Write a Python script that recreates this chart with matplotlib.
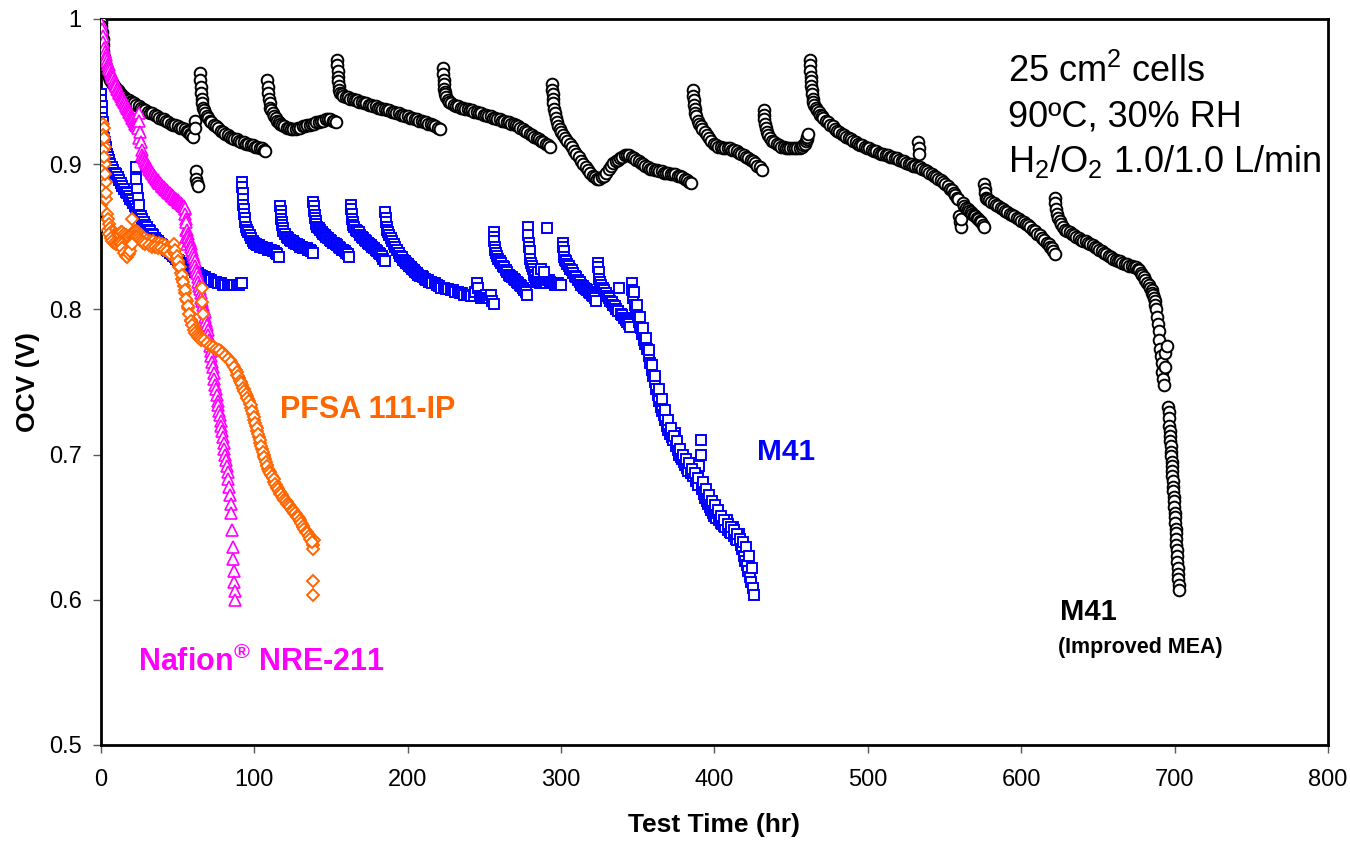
import matplotlib
matplotlib.use('Agg')
from matplotlib import pyplot as plt

plt.rcParams['font.family'] = ['Liberation Sans', 'DejaVu Sans']
plt.rcParams['mathtext.fontset'] = 'custom'
plt.rcParams['mathtext.rm'] = 'Liberation Sans'
plt.rcParams['mathtext.bf'] = 'Liberation Sans:bold'

# M41 (Improved MEA) - black circles, (time hr, OCV V)
m41i_pts = [
    (0, 0.998), (0.3, 0.995), (0.6, 0.991), (1, 0.986), (1.3, 0.982), (1.6, 0.978), (2, 0.974), (2.5, 0.970),
    (3, 0.967), (3.5, 0.965), (4, 0.963), (5, 0.960), (6, 0.958), (7, 0.956), (8, 0.955), (9, 0.953), (10, 0.952),
    (11, 0.951), (12, 0.950), (13, 0.948), (14, 0.947), (15, 0.946), (16, 0.945), (17, 0.944), (18, 0.944),
    (19, 0.943), (20, 0.943), (21.5, 0.942), (23, 0.941), (24.5, 0.940), (26, 0.939), (27.5, 0.938), (29, 0.937),
    (30.5, 0.936), (32, 0.935), (33.5, 0.935), (35, 0.934), (36.5, 0.933), (38, 0.932), (39.5, 0.931), (41, 0.931),
    (42.5, 0.930), (44, 0.929), (45.5, 0.928), (47, 0.927), (48.5, 0.927), (50, 0.926), (51.5, 0.925), (53, 0.925),
    (54.5, 0.924), (56, 0.923), (57, 0.922), (58, 0.921), (59, 0.920), (60, 0.919),
    (61, 0.930), (61, 0.925), (62, 0.895), (62, 0.890), (62.5, 0.887), (63, 0.885),
    (64.5, 0.963), (64.8, 0.958), (65, 0.953), (65.3, 0.949), (65.6, 0.945), (66, 0.942), (66.5, 0.939), (67, 0.937),
    (68, 0.935), (69, 0.933), (70, 0.932), (71, 0.930), (72, 0.929), (73.5, 0.927), (75, 0.926), (76.5, 0.925),
    (78, 0.923), (79.5, 0.922), (81, 0.921), (82.5, 0.920), (84, 0.919), (85.5, 0.918), (87, 0.917), (88.5, 0.917),
    (90, 0.916), (91.5, 0.915), (93, 0.915), (94.5, 0.914), (96, 0.914), (97.5, 0.913), (99, 0.913), (100.5, 0.912),
    (102, 0.912), (103.5, 0.911), (105, 0.911), (106, 0.910), (107, 0.909),
    (108.5, 0.958), (108.8, 0.953), (109, 0.949), (109.5, 0.945), (110, 0.942), (110.5, 0.939), (111, 0.937),
    (112, 0.935), (113, 0.933), (114, 0.932), (115, 0.930), (116, 0.929), (117, 0.928), (118, 0.927), (119.5, 0.926),
    (121, 0.925), (122.5, 0.925), (124, 0.924), (125.5, 0.924), (127, 0.924), (128.5, 0.925), (130, 0.925),
    (131.5, 0.926), (133, 0.926), (134.5, 0.927), (136, 0.927), (137.5, 0.928), (139, 0.928), (140.5, 0.929),
    (142, 0.929), (143.5, 0.930), (145, 0.930), (146.5, 0.931), (148, 0.931), (149.5, 0.931), (151, 0.930),
    (152, 0.930), (153, 0.929),
    (154, 0.972), (154.2, 0.968), (154.4, 0.964), (154.6, 0.960), (154.8, 0.957), (155, 0.954), (155.5, 0.951),
    (156, 0.949), (157, 0.948), (158, 0.947), (159.5, 0.946), (161, 0.946), (162.5, 0.945), (164, 0.945),
    (165.5, 0.944), (167, 0.944), (168.5, 0.943), (170, 0.943), (171.5, 0.942), (173, 0.942), (174.5, 0.941),
    (176, 0.941), (177.5, 0.940), (179, 0.940), (180.5, 0.939), (182, 0.939), (183.5, 0.938), (185, 0.938),
    (186.5, 0.937), (188, 0.937), (189.5, 0.936), (191, 0.936), (192.5, 0.935), (194, 0.935), (195.5, 0.934),
    (197, 0.934), (198.5, 0.933), (200, 0.933), (201.5, 0.932), (203, 0.932), (204.5, 0.931), (206, 0.931),
    (207.5, 0.930), (209, 0.930), (210.5, 0.929), (212, 0.929), (213.5, 0.928), (215, 0.928), (216.5, 0.927),
    (218, 0.926), (219.5, 0.925), (221, 0.924),
    (223, 0.966), (223.2, 0.962), (223.4, 0.958), (223.6, 0.955), (223.8, 0.952), (224, 0.950), (224.5, 0.948),
    (225, 0.946), (226, 0.944), (227, 0.943), (228.5, 0.942), (230, 0.941), (231.5, 0.940), (233, 0.940),
    (234.5, 0.939), (236, 0.939), (237.5, 0.938), (239, 0.938), (240.5, 0.937), (242, 0.937), (243.5, 0.936),
    (245, 0.936), (246.5, 0.935), (248, 0.935), (249.5, 0.934), (251, 0.934), (252.5, 0.933), (254, 0.933),
    (255.5, 0.932), (257, 0.932), (258.5, 0.931), (260, 0.931), (261.5, 0.930), (263, 0.930), (264.5, 0.929),
    (266, 0.929), (267.5, 0.928), (269, 0.928), (270.5, 0.927), (272, 0.926), (273.5, 0.925), (275, 0.924),
    (276.5, 0.923), (278, 0.922), (279.5, 0.921), (281, 0.920), (282.5, 0.919), (284, 0.918), (285.5, 0.917),
    (287, 0.916), (288.5, 0.915), (290, 0.914), (291.5, 0.913), (293, 0.912),
    (294, 0.955), (294.2, 0.951), (294.5, 0.948), (294.8, 0.945), (295, 0.942), (295.5, 0.938), (296, 0.935),
    (296.5, 0.932), (297, 0.929), (298, 0.926), (299, 0.924), (300, 0.922), (301, 0.920), (302.5, 0.918),
    (304, 0.916), (305.5, 0.914), (307, 0.912), (308.5, 0.909), (310, 0.907), (311.5, 0.905), (313, 0.902),
    (314.5, 0.900), (316, 0.898), (317.5, 0.896), (319, 0.894), (320.5, 0.892), (322, 0.891), (323.5, 0.890),
    (325, 0.890), (326.5, 0.891), (328, 0.892), (329.5, 0.894), (331, 0.897), (332.5, 0.899), (334, 0.901),
    (335.5, 0.902), (337, 0.903), (338.5, 0.904), (340, 0.905), (341.5, 0.906), (343, 0.906), (344.5, 0.906),
    (346, 0.905), (347.5, 0.904), (349, 0.903), (350.5, 0.902), (352, 0.901), (353.5, 0.900), (355, 0.899),
    (356.5, 0.898), (358, 0.897), (359.5, 0.897), (361, 0.896), (362.5, 0.896), (364, 0.895), (365.5, 0.895),
    (367, 0.894), (368.5, 0.894), (370, 0.894), (371.5, 0.893), (373, 0.893), (374.5, 0.893), (376, 0.892),
    (377.5, 0.892), (379, 0.891), (380.5, 0.890), (382, 0.889), (383.5, 0.888), (385, 0.887),
    (386, 0.951), (386.2, 0.947), (386.5, 0.944), (386.8, 0.941), (387, 0.938), (387.5, 0.935), (388, 0.933),
    (389, 0.930), (390, 0.928), (391, 0.926), (392, 0.924), (393.5, 0.922), (395, 0.920), (396.5, 0.918),
    (398, 0.916), (399.5, 0.914), (401, 0.913), (402.5, 0.912), (404, 0.912), (405.5, 0.911), (407, 0.911),
    (408.5, 0.911), (410, 0.911), (411.5, 0.910), (413, 0.910), (414.5, 0.909), (416, 0.908), (417.5, 0.907),
    (419, 0.906), (420.5, 0.905), (422, 0.904), (423.5, 0.903), (425, 0.902), (426.5, 0.901), (428, 0.899),
    (429.5, 0.898), (431, 0.896),
    (432, 0.937), (432.3, 0.934), (432.6, 0.931), (433, 0.928), (433.5, 0.925), (434, 0.922), (435, 0.920),
    (436, 0.918), (437.5, 0.916), (439, 0.915), (440.5, 0.914), (442, 0.913), (443.5, 0.912), (445, 0.912),
    (446.5, 0.911), (448, 0.911), (449.5, 0.911), (451, 0.911), (452.5, 0.911), (454, 0.911), (455.5, 0.911),
    (457, 0.912), (458, 0.913), (459, 0.914), (459.5, 0.916), (460, 0.917), (460.5, 0.919), (461, 0.921),
    (462, 0.972), (462.2, 0.968), (462.4, 0.964), (462.6, 0.960), (462.8, 0.957), (463, 0.954), (463.3, 0.951),
    (463.6, 0.948), (464, 0.945), (464.5, 0.943), (465, 0.941), (466, 0.939), (467, 0.937), (468, 0.936),
    (469, 0.934), (470, 0.933), (471, 0.932), (472.5, 0.930), (474, 0.929), (475.5, 0.927), (477, 0.926),
    (478.5, 0.924), (480, 0.923), (481.5, 0.922), (483, 0.921), (484.5, 0.920), (486, 0.919), (487.5, 0.918),
    (489, 0.917), (490.5, 0.916), (492, 0.915), (493.5, 0.914), (495, 0.913), (496.5, 0.913), (498, 0.912),
    (499.5, 0.911), (501, 0.911), (502.5, 0.910), (504, 0.909), (505.5, 0.909), (507, 0.908), (508.5, 0.907),
    (510, 0.907), (511.5, 0.906), (513, 0.906), (514.5, 0.905), (516, 0.905), (517.5, 0.904), (519, 0.904),
    (520.5, 0.903), (522, 0.902), (523.5, 0.902), (525, 0.901), (526.5, 0.900), (528, 0.900), (529.5, 0.899),
    (531, 0.899), (532.5, 0.898), (533, 0.915), (533.3, 0.911), (533.6, 0.907), (534, 0.898), (535.5, 0.897),
    (537, 0.896), (538.5, 0.895), (540, 0.894), (541.5, 0.893), (543, 0.892), (544.5, 0.891), (546, 0.890),
    (547.5, 0.889), (549, 0.888), (550.5, 0.886), (552, 0.885), (553.5, 0.883), (555, 0.882), (556, 0.880),
    (557, 0.879), (558, 0.877), (559, 0.876), (559.5, 0.864), (560, 0.860), (560.5, 0.857), (561, 0.862),
    (562, 0.873), (563, 0.871), (564, 0.870), (565, 0.869), (566, 0.868), (567, 0.867), (568, 0.866),
    (569, 0.865), (570, 0.864), (571, 0.863), (572, 0.862), (573, 0.861), (574, 0.860), (575, 0.858), (576, 0.857),
    (576, 0.886), (576.3, 0.883), (576.6, 0.880), (577, 0.877), (578, 0.876), (579, 0.875), (580.5, 0.874),
    (582, 0.873), (583.5, 0.872), (585, 0.871), (586.5, 0.870), (588, 0.869), (589.5, 0.868), (591, 0.867),
    (592.5, 0.866), (594, 0.865), (595.5, 0.864), (597, 0.863), (598.5, 0.862), (600, 0.861), (601.5, 0.860),
    (603, 0.859), (604.5, 0.858), (606, 0.857), (607.5, 0.855), (609, 0.854), (610.5, 0.852), (612, 0.851),
    (613.5, 0.849), (615, 0.848), (616.5, 0.846), (618, 0.845), (619, 0.843), (620, 0.842), (621, 0.840),
    (622, 0.838),
    (622, 0.877), (622.3, 0.873), (622.6, 0.869), (623, 0.866), (624, 0.863), (625, 0.861), (626, 0.859),
    (627, 0.857), (628.5, 0.855), (630, 0.854), (631.5, 0.853), (633, 0.852), (634.5, 0.851), (636, 0.850),
    (637.5, 0.849), (639, 0.848), (640.5, 0.847), (642, 0.847), (643.5, 0.846), (645, 0.845), (646.5, 0.844),
    (648, 0.843), (649.5, 0.842), (651, 0.841), (652.5, 0.840), (654, 0.839), (655.5, 0.838), (657, 0.837),
    (658.5, 0.836), (660, 0.835), (661.5, 0.834), (663, 0.833), (664.5, 0.833), (666, 0.832), (667.5, 0.831),
    (669, 0.831), (670.5, 0.830), (672, 0.830), (673.5, 0.829), (675, 0.829), (676, 0.828), (677, 0.827),
    (678, 0.825), (679, 0.824), (680, 0.822), (681, 0.820), (682, 0.818), (683, 0.817), (684, 0.815),
    (685, 0.813), (685.5, 0.811), (686, 0.810), (686.5, 0.808), (687, 0.806), (687.5, 0.803), (688, 0.800),
    (688.5, 0.795), (689, 0.790), (689.5, 0.785), (690, 0.779), (690.5, 0.773), (691, 0.768), (691.5, 0.763),
    (692, 0.757), (692.5, 0.752), (693, 0.748), (693.5, 0.760), (694, 0.770), (695, 0.775),
    (696, 0.733), (696.2, 0.729), (696.4, 0.725), (696.6, 0.720), (696.8, 0.716), (697, 0.713), (697.2, 0.709),
    (697.4, 0.706), (697.6, 0.702), (697.8, 0.699), (698, 0.695), (698.2, 0.692), (698.4, 0.689), (698.6, 0.685),
    (698.8, 0.682), (699, 0.678), (699.2, 0.675), (699.4, 0.671), (699.6, 0.668), (699.8, 0.664), (700, 0.660),
    (700.2, 0.657), (700.4, 0.653), (700.6, 0.649), (700.8, 0.646), (701, 0.642), (701.2, 0.638), (701.4, 0.634),
    (701.6, 0.630), (701.8, 0.626), (702, 0.622), (702.2, 0.618), (702.4, 0.614), (702.6, 0.610), (702.8, 0.607),
]

# M41 - blue squares
m41_pts = [
    (0, 0.948), (0.2, 0.944), (0.4, 0.940), (0.6, 0.936), (0.8, 0.932), (1, 0.929), (1.3, 0.925), (1.6, 0.921),
    (2, 0.918), (2.5, 0.915), (3, 0.912), (3.5, 0.909), (4, 0.907), (4.5, 0.905), (5, 0.903), (5.5, 0.901),
    (6, 0.900), (7, 0.898), (8, 0.896), (9, 0.894), (10, 0.893), (11, 0.891), (12, 0.889), (13, 0.887),
    (14, 0.885), (15, 0.883), (16, 0.881), (17, 0.880), (18, 0.878), (19, 0.876), (20, 0.875), (21, 0.873),
    (22, 0.871), (23, 0.869), (24, 0.867), (25, 0.865), (26, 0.864), (27, 0.862), (28, 0.860), (29, 0.858),
    (30, 0.857), (31, 0.855), (32, 0.854), (33, 0.852), (34, 0.851), (35, 0.849), (36, 0.848), (37, 0.847),
    (38, 0.846), (39, 0.845), (40, 0.844), (41, 0.843), (42, 0.842), (43, 0.841), (44, 0.840), (45, 0.839),
    (46, 0.838), (47, 0.837), (48, 0.836), (49, 0.835), (50, 0.834), (51, 0.833), (52, 0.832), (53, 0.831),
    (54, 0.831), (55, 0.830), (56, 0.830), (57, 0.829), (58, 0.829), (59, 0.828), (60, 0.827), (61.5, 0.826),
    (63, 0.825), (64.5, 0.824), (66, 0.823), (67.5, 0.822), (69, 0.821), (70.5, 0.821), (72, 0.820),
    (73.5, 0.819), (75, 0.819), (76.5, 0.818), (78, 0.818), (79.5, 0.817), (81, 0.817), (82.5, 0.817),
    (84, 0.817), (85.5, 0.817), (87, 0.817), (88.5, 0.817), (90, 0.817), (91, 0.818), (92, 0.818),
    (23, 0.898), (23, 0.890), (23.5, 0.883), (24, 0.877), (24.5, 0.872),
    (92, 0.888), (92.2, 0.884), (92.4, 0.880), (92.6, 0.876), (92.8, 0.872), (93, 0.869), (93.3, 0.866),
    (93.6, 0.863), (94, 0.860), (94.5, 0.857), (95, 0.855), (96, 0.853), (97, 0.851), (98, 0.849), (99, 0.847),
    (100, 0.846), (101, 0.845), (102, 0.844), (103, 0.844), (104, 0.843), (105, 0.843), (106, 0.842),
    (107, 0.842), (108, 0.842), (109, 0.841), (110, 0.841), (111, 0.841), (112, 0.840), (113, 0.840),
    (114, 0.839), (115, 0.838), (116, 0.836),
    (117, 0.871), (117.2, 0.868), (117.4, 0.865), (117.6, 0.862), (117.8, 0.860), (118, 0.858), (118.5, 0.856),
    (119, 0.854), (120, 0.852), (121, 0.850), (122, 0.849), (123, 0.848), (124, 0.847), (125, 0.847),
    (126, 0.846), (127, 0.845), (128, 0.845), (129, 0.844), (130, 0.843), (131, 0.843), (132, 0.842),
    (133, 0.842), (134, 0.842), (135, 0.841), (136, 0.841), (137, 0.840), (138, 0.839),
    (138.5, 0.874), (138.7, 0.871), (139, 0.868), (139.3, 0.865), (139.6, 0.863), (140, 0.861), (140.5, 0.859),
    (141, 0.857), (142, 0.856), (143, 0.855), (144, 0.853), (145, 0.852), (146, 0.851), (147, 0.850),
    (148, 0.849), (149, 0.848), (150, 0.847), (151, 0.846), (152, 0.846), (153, 0.845), (154, 0.844),
    (155, 0.843), (156, 0.842), (157, 0.841), (158, 0.841), (159, 0.840), (160, 0.839), (161, 0.838),
    (162, 0.836),
    (163, 0.872), (163.2, 0.869), (163.4, 0.866), (163.7, 0.862), (164, 0.860), (164.5, 0.858), (165, 0.857),
    (166, 0.855), (167, 0.854), (168, 0.853), (169, 0.851), (170, 0.850), (171, 0.849), (172, 0.848),
    (173, 0.847), (174, 0.846), (175, 0.845), (176, 0.844), (177, 0.843), (178, 0.842), (179, 0.841),
    (180, 0.840), (181, 0.839), (182, 0.838), (183, 0.837), (184, 0.835), (185, 0.833),
    (185.5, 0.867), (185.7, 0.863), (186, 0.860), (186.3, 0.857), (186.6, 0.855), (187, 0.853), (188, 0.851),
    (189, 0.849), (190, 0.847), (191, 0.845), (192, 0.843), (193, 0.841), (194, 0.839), (195, 0.837),
    (196, 0.836), (197, 0.834), (198, 0.833), (199, 0.832), (200, 0.831), (201, 0.830), (202, 0.829),
    (203, 0.828), (204, 0.827), (205, 0.826), (206, 0.825), (207, 0.824), (208, 0.823), (209, 0.823),
    (210, 0.822), (211, 0.821), (212, 0.820), (213, 0.820), (214, 0.819), (215, 0.819), (216, 0.818),
    (217.5, 0.818), (219, 0.817), (220.5, 0.816), (222, 0.815), (223.5, 0.815), (225, 0.814), (226.5, 0.814),
    (228, 0.813), (229.5, 0.813), (231, 0.812), (232.5, 0.812), (234, 0.811), (235.5, 0.811), (237, 0.810),
    (238.5, 0.810), (240, 0.810), (241.5, 0.809), (243, 0.809), (244, 0.812), (245, 0.818), (246, 0.815),
    (247, 0.809), (248, 0.808), (249, 0.808), (250, 0.809), (251, 0.810), (252, 0.808), (253, 0.808),
    (254, 0.810), (255, 0.806), (256, 0.804),
    (256, 0.853), (256.2, 0.850), (256.4, 0.847), (256.7, 0.843), (257, 0.841), (257.5, 0.839), (258, 0.837),
    (259, 0.835), (260, 0.833), (261, 0.832), (262, 0.830), (263, 0.829), (264, 0.827), (265, 0.826),
    (266, 0.824), (267, 0.823), (268, 0.822), (269, 0.821), (270, 0.820), (271, 0.819), (272, 0.818),
    (273, 0.817), (274, 0.816), (275, 0.815), (276, 0.813), (277, 0.812), (278, 0.810),
    (278.5, 0.857), (278.7, 0.851), (279, 0.846), (279.3, 0.843), (279.6, 0.840), (280, 0.835), (280.5, 0.832),
    (281, 0.830), (281.5, 0.828), (282, 0.826), (282.5, 0.824), (283, 0.822), (283.5, 0.820), (284, 0.819),
    (285, 0.819), (286, 0.818), (287, 0.819), (288, 0.820), (289, 0.819), (290, 0.818), (291, 0.856),
    (291.5, 0.820), (292, 0.820), (293, 0.819), (294, 0.818), (295, 0.818), (296, 0.817), (297, 0.818),
    (298, 0.818), (299, 0.817), (300, 0.817), (285, 0.826), (287, 0.828), (289, 0.826),
    (301, 0.846), (301.3, 0.843), (301.6, 0.840), (302, 0.836), (302.5, 0.834), (303, 0.833), (304, 0.831),
    (305, 0.830), (306, 0.828), (307, 0.827), (308, 0.825), (309, 0.823), (310, 0.822), (311, 0.820),
    (312, 0.819), (313, 0.817), (314, 0.816), (315, 0.815), (316, 0.814), (317, 0.813), (318, 0.812),
    (319, 0.811), (320, 0.810), (321, 0.809), (322, 0.808), (323, 0.806),
    (324, 0.832), (324.3, 0.829), (324.6, 0.826), (325, 0.821), (325.5, 0.819), (326, 0.817), (327, 0.815),
    (328, 0.813), (329, 0.811), (330, 0.809), (331, 0.808), (332, 0.806), (333, 0.805), (334, 0.803),
    (335, 0.802), (336, 0.800), (337, 0.799), (338, 0.815), (339, 0.797), (340, 0.796), (341, 0.794),
    (342, 0.793), (343, 0.791), (344, 0.790), (345, 0.788),
    (346, 0.818), (346.5, 0.813), (347, 0.808), (348, 0.803), (349, 0.799), (350, 0.795), (351, 0.791),
    (352, 0.787), (353, 0.783), (354, 0.779), (355, 0.776), (356, 0.773), (357, 0.768), (358, 0.763),
    (359, 0.758), (360, 0.754), (361, 0.750), (362, 0.745), (363, 0.741), (364, 0.737), (365, 0.733),
    (366, 0.730), (367, 0.727), (368, 0.724), (369, 0.720), (370, 0.717), (371, 0.714), (372, 0.712),
    (373, 0.710), (374, 0.715), (375, 0.706), (376, 0.703), (377, 0.700), (378, 0.698), (379, 0.697),
    (380, 0.695), (381, 0.693), (382, 0.691), (383, 0.689), (384, 0.694), (385, 0.687), (386, 0.685),
    (387, 0.688), (388, 0.682), (389, 0.679), (390, 0.692), (391, 0.710), (391.5, 0.700), (392, 0.676),
    (393, 0.673), (394, 0.670), (395, 0.668), (396, 0.666), (397, 0.664), (398, 0.662), (399, 0.660),
    (400, 0.658), (401, 0.656), (402, 0.660), (403, 0.655), (404, 0.653), (405, 0.652), (406, 0.651),
    (407, 0.650), (408, 0.655), (409, 0.648), (410, 0.647), (411, 0.646), (412, 0.650), (413, 0.644),
    (414, 0.642), (415, 0.641), (416, 0.645), (417, 0.638), (418, 0.635), (419, 0.630), (420, 0.627),
    (421, 0.624), (422, 0.620), (423, 0.616), (424, 0.612), (425, 0.608), (425.5, 0.603),
    (347.5, 0.812), (349.5, 0.803), (351.5, 0.795), (353.5, 0.787), (355.5, 0.780), (357.5, 0.772),
    (359.5, 0.762), (361.5, 0.754), (363.5, 0.745), (365.5, 0.738), (367.5, 0.731), (369.5, 0.724),
    (371.5, 0.718), (373.5, 0.713), (375.5, 0.709), (377.5, 0.704), (379.5, 0.700), (381.5, 0.697),
    (383.5, 0.694), (385.5, 0.690), (387.5, 0.687), (389.5, 0.684), (392.5, 0.681), (394.5, 0.676),
    (396.5, 0.672), (398.5, 0.668), (400.5, 0.665), (402.5, 0.662), (404.5, 0.658), (406.5, 0.655),
    (408.5, 0.652), (410.5, 0.650), (412.5, 0.648), (414.5, 0.645), (416.5, 0.642), (418.5, 0.640),
    (420.5, 0.636), (422.5, 0.630), (424.5, 0.622),
]

# Nafion NRE-211 - magenta triangles
nre_pts = [
    (0, 0.997), (0.5, 0.993), (1, 0.988), (1.5, 0.984), (2, 0.980), (2.5, 0.977), (3, 0.975), (3.5, 0.973),
    (4, 0.971), (4.5, 0.969), (5, 0.968), (5.5, 0.966), (6, 0.965), (6.5, 0.963), (7, 0.962), (7.5, 0.960),
    (8, 0.959), (8.5, 0.957), (9, 0.956), (9.5, 0.955), (10, 0.954), (10.5, 0.952), (11, 0.951), (11.5, 0.950),
    (12, 0.949), (12.5, 0.948), (13, 0.947), (13.5, 0.946), (14, 0.945), (14.5, 0.944), (15, 0.943),
    (15.5, 0.942), (16, 0.941), (16.5, 0.940), (17, 0.939), (17.5, 0.938), (18, 0.937), (18.5, 0.936),
    (19, 0.935), (19.5, 0.934), (20, 0.933), (20.5, 0.932), (21, 0.931), (21.5, 0.930), (22, 0.929),
    (22.5, 0.928), (23, 0.927), (23.5, 0.926), (24, 0.925), (24.5, 0.935), (25, 0.930), (25, 0.918),
    (25.5, 0.922), (26, 0.915), (26.5, 0.910), (27, 0.906), (27.5, 0.905), (28, 0.904), (28.5, 0.903),
    (29, 0.902), (29.5, 0.901), (30, 0.900), (30.5, 0.899), (31, 0.898), (31.5, 0.897), (32, 0.896),
    (32.5, 0.895), (33, 0.894), (33.5, 0.894), (34, 0.893), (34.5, 0.892), (35, 0.891), (35.5, 0.891),
    (36, 0.890), (36.5, 0.889), (37, 0.889), (37.5, 0.888), (38, 0.887), (38.5, 0.887), (39, 0.886),
    (39.5, 0.885), (40, 0.885), (40.5, 0.884), (41, 0.884), (41.5, 0.883), (42, 0.883), (42.5, 0.882),
    (43, 0.882), (43.5, 0.881), (44, 0.881), (44.5, 0.880), (45, 0.880), (45.5, 0.879), (46, 0.879),
    (46.5, 0.878), (47, 0.878), (47.5, 0.877), (48, 0.877), (48.5, 0.876), (49, 0.876), (49.5, 0.875),
    (50, 0.875), (50.5, 0.874), (51, 0.874), (51.5, 0.873), (52, 0.873), (52.5, 0.872), (53, 0.872),
    (53.5, 0.871), (54, 0.871), (54.5, 0.869), (55, 0.870), (55, 0.866), (55.2, 0.862), (55.4, 0.855),
    (55.5, 0.860), (55.6, 0.850), (55.8, 0.845), (56, 0.855), (56.5, 0.852), (57, 0.850), (57.5, 0.848),
    (58, 0.847), (58.5, 0.845), (59, 0.843), (59.5, 0.841), (60, 0.838), (60.5, 0.836), (61, 0.833),
    (61.5, 0.830), (62, 0.827), (62.5, 0.825), (63, 0.822), (63.5, 0.819), (64, 0.816), (64.5, 0.814),
    (65, 0.811), (65.5, 0.808), (66, 0.806), (66.5, 0.803), (67, 0.800), (67.5, 0.798), (68, 0.795),
    (68.5, 0.792), (69, 0.789), (69.5, 0.786), (70, 0.782), (70.5, 0.779), (71, 0.775), (71.5, 0.771),
    (72, 0.768), (72.5, 0.764), (73, 0.760), (73.5, 0.756), (74, 0.752), (74.5, 0.748), (75, 0.745),
    (75.5, 0.741), (76, 0.737), (76.5, 0.734), (77, 0.730), (77.5, 0.727), (78, 0.723), (78.5, 0.720),
    (79, 0.716), (79.5, 0.712), (80, 0.708), (80.5, 0.704), (81, 0.700), (81.5, 0.696), (82, 0.692),
    (82.5, 0.688), (83, 0.683), (83.5, 0.678), (84, 0.672), (84.5, 0.666), (85, 0.660), (85.5, 0.648),
    (86, 0.636), (86.3, 0.628), (86.6, 0.620), (87, 0.612), (87.3, 0.606), (87.6, 0.600),
]

# PFSA 111-IP - orange diamonds
pfsa_pts = [
    (0, 0.858), (0.3, 0.872), (0.6, 0.888), (1, 0.903), (1.3, 0.916), (1.6, 0.928), (2, 0.925), (2.3, 0.912),
    (2.6, 0.900), (3, 0.888), (3.5, 0.876), (4, 0.866), (0, 0.870), (0.5, 0.882), (0.8, 0.895), (1.2, 0.910),
    (1.5, 0.920), (1.8, 0.918), (2.2, 0.905), (2.8, 0.893), (3.2, 0.880), (4.5, 0.862),
    (5, 0.859), (6, 0.856), (7, 0.854), (8, 0.853), (9, 0.852), (10, 0.851), (11, 0.851), (12, 0.852),
    (13, 0.853), (14, 0.853), (15, 0.852), (16, 0.851), (17, 0.850), (18, 0.850), (19, 0.851), (20, 0.852),
    (21, 0.853), (22, 0.854), (23, 0.854), (24, 0.853), (25, 0.852), (26, 0.851), (27, 0.850), (28, 0.849),
    (30, 0.848), (32, 0.847), (34, 0.847), (36, 0.846), (38, 0.846), (40, 0.845), (42, 0.844), (44, 0.843),
    (46, 0.842),
    (5.5, 0.852), (6.5, 0.849), (7.5, 0.847), (8.5, 0.846), (9.5, 0.845), (10.5, 0.845), (11.5, 0.846),
    (12.5, 0.846), (13.5, 0.845), (14.5, 0.843), (15.5, 0.841), (16.5, 0.839), (17.5, 0.840), (18.5, 0.842),
    (19.5, 0.845), (21.5, 0.849), (22.5, 0.850), (23.5, 0.850), (24.5, 0.849), (25.5, 0.848), (26.5, 0.847),
    (27.5, 0.846), (29, 0.845), (31, 0.844), (33, 0.843), (35, 0.843), (37, 0.842), (39, 0.842), (41, 0.841),
    (43, 0.840), (45, 0.838),
    (14, 0.842), (15, 0.839), (16, 0.837), (17, 0.836), (18, 0.838), (19, 0.840), (20, 0.845), (20.5, 0.862),
    (47, 0.840), (48, 0.838), (49, 0.835), (50, 0.832), (51, 0.829), (52, 0.825), (53, 0.821), (54, 0.816),
    (55, 0.811), (56, 0.806), (57, 0.801), (58, 0.797), (59, 0.793), (60, 0.790), (61, 0.787), (62, 0.785),
    (63, 0.783), (64, 0.782), (65, 0.781), (66, 0.780), (68, 0.778), (70, 0.776), (72, 0.775), (74, 0.774),
    (76, 0.772), (78, 0.771), (80, 0.769), (82, 0.767), (84, 0.765), (86, 0.762), (88, 0.758), (89, 0.755),
    (90, 0.753), (91, 0.750), (92, 0.748), (93, 0.745), (94, 0.743), (95, 0.740), (96, 0.738), (97, 0.735),
    (98, 0.732), (99, 0.728), (100, 0.724), (101, 0.720), (102, 0.716), (103, 0.712), (104, 0.708),
    (105, 0.704), (106, 0.700), (107, 0.697), (108, 0.693), (109, 0.690), (110, 0.688), (111, 0.686),
    (112, 0.684), (113, 0.681), (114, 0.679), (115, 0.677), (116, 0.675), (117, 0.673), (118, 0.672),
    (119, 0.670), (120, 0.669), (121, 0.667), (122, 0.666), (123, 0.664), (124, 0.663), (125, 0.662),
    (126, 0.660), (127, 0.659), (128, 0.657), (129, 0.656), (130, 0.654), (131, 0.652), (132, 0.650),
    (133, 0.648), (134, 0.647), (135, 0.645), (136, 0.643), (137, 0.641), (138, 0.638), (138.5, 0.635),
    (139, 0.641),
    (47.5, 0.845), (48.5, 0.841), (49.5, 0.837), (50.5, 0.833), (51.5, 0.829), (52.5, 0.824), (53.5, 0.819),
    (54.5, 0.813), (55.5, 0.807), (56.5, 0.802), (57.5, 0.797), (58.5, 0.792), (59.5, 0.789), (60.5, 0.786),
    (61.5, 0.784), (62.5, 0.782), (63.5, 0.781), (64.5, 0.780), (65.5, 0.779), (67, 0.779), (69, 0.777),
    (71, 0.775), (73, 0.774), (75, 0.773), (77, 0.772), (79, 0.770), (81, 0.768), (83, 0.766), (85, 0.764),
    (87, 0.760), (88.5, 0.757), (89.5, 0.754), (90.5, 0.751), (91.5, 0.749), (92.5, 0.746), (93.5, 0.744),
    (94.5, 0.742), (95.5, 0.739), (96.5, 0.737), (97.5, 0.734), (98.5, 0.730), (99.5, 0.726), (100.5, 0.722),
    (101.5, 0.718), (102.5, 0.714), (103.5, 0.710), (104.5, 0.706), (105.5, 0.702), (106.5, 0.698),
    (107.5, 0.695), (108.5, 0.692), (109.5, 0.689), (110.5, 0.687), (111.5, 0.685), (112.5, 0.683),
    (113.5, 0.680), (114.5, 0.678), (115.5, 0.676), (116.5, 0.674), (117.5, 0.673), (118.5, 0.671),
    (119.5, 0.669), (120.5, 0.668), (121.5, 0.666), (122.5, 0.665), (123.5, 0.664), (124.5, 0.662),
    (125.5, 0.661), (126.5, 0.660), (127.5, 0.658), (128.5, 0.657), (129.5, 0.655), (130.5, 0.653),
    (131.5, 0.651), (132.5, 0.649), (133.5, 0.647), (134.5, 0.646), (135.5, 0.644), (136.5, 0.642),
    (137.5, 0.640),
    (66, 0.815), (66, 0.805), (66.5, 0.797), (138, 0.613), (138, 0.603),
]

labels = ['PFSA 111-IP', 'M41', r'Nafion$^{\mathbf{®}}$ NRE-211', 'M41', '(Improved MEA)']
conditions = [r'25 cm$^2$ cells', '90ºC, 30% RH', r'H$_2$/O$_2$ 1.0/1.0 L/min']

fig = plt.figure(figsize=(13.5, 8.43), dpi=100)
ax = fig.add_axes([0.0748, 0.1163, 0.9089, 0.8612])

t, v = zip(*m41i_pts)
ax.plot(t, v, ls='none', marker='o', ms=8.4, mfc='white', mec='black', mew=1.4, zorder=3)
t, v = zip(*m41_pts)
ax.plot(t, v, ls='none', marker='s', ms=7.6, mfc='white', mec='#0000ff', mew=1.4, zorder=4)
t, v = zip(*nre_pts)
ax.plot(t, v, ls='none', marker='^', ms=8.0, mfc='white', mec='#ff00ff', mew=1.2, zorder=5)
t, v = zip(*pfsa_pts)
ax.plot(t, v, ls='none', marker='D', ms=6.5, mfc='white', mec='#ff6600', mew=1.4, zorder=6)

ax.set_xlim(0, 800)
ax.set_ylim(0.5, 1.0)
ax.set_xticks(range(0, 801, 100))
ax.set_yticks([0.5, 0.6, 0.7, 0.8, 0.9, 1.0])
ax.set_yticklabels(['0.5', '0.6', '0.7', '0.8', '0.9', '1'])
ax.tick_params(direction='out', length=6, width=1, color='0.35', labelsize=17, pad=8)
ax.tick_params(axis='x', pad=11)
for s in ax.spines.values():
    s.set_linewidth(2)
    s.set_color('black')

ax.set_xlabel('Test Time (hr)', fontsize=19, fontweight='bold', labelpad=16)
ax.set_ylabel('OCV (V)', fontsize=19, fontweight='bold', labelpad=6)

ax.text(116.7, 0.7307, labels[0], color='#ff6600', fontsize=22, fontweight='bold', va='center')
ax.text(427.6, 0.7018, labels[1], color='#0000ff', fontsize=21.5, fontweight='bold', va='center')
ax.text(24.1, 0.5572, labels[2], color='#ff00ff', fontsize=22, fontweight='bold', va='center')
ax.text(625.2, 0.5916, labels[3], color='black', fontsize=21, fontweight='bold', va='center')
ax.text(623.9, 0.5668, labels[4], color='black', fontsize=15.5, fontweight='bold', va='center')

for i, line in enumerate(conditions):
    ax.text(591.3, 0.9635 - 0.031 * i, line, color='black', fontsize=26, va='center')

fig.savefig('out.png', dpi=100)
